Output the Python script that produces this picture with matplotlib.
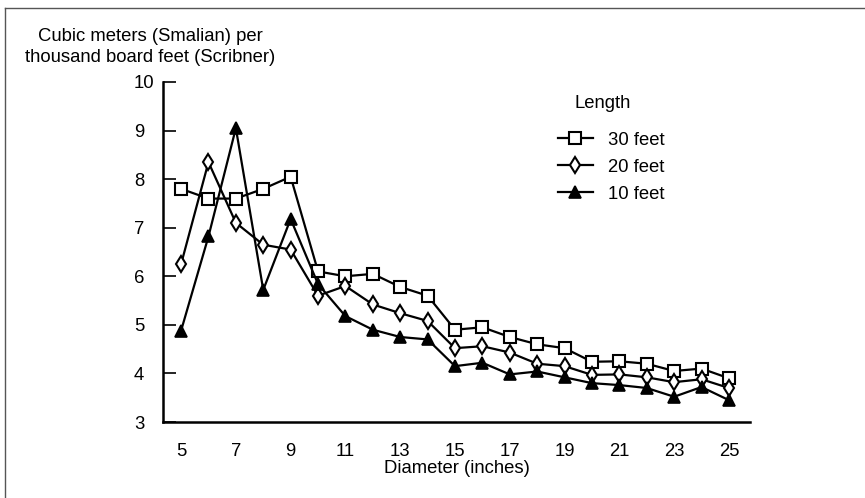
import numpy as np
import matplotlib.pyplot as plt
from matplotlib.lines import Line2D

plt.rcParams['font.family'] = ['Liberation Sans', 'DejaVu Sans']

diameter = list(range(5, 26))
len30 = [7.8, 7.6, 7.6, 7.8, 8.05, 6.1, 6.0, 6.05, 5.78, 5.6, 4.9, 4.95, 4.75,
         4.6, 4.52, 4.24, 4.25, 4.2, 4.05, 4.1, 3.9]
len20 = [6.25, 8.35, 7.1, 6.65, 6.55, 5.6, 5.8, 5.42, 5.24, 5.08, 4.52, 4.56, 4.43,
         4.2, 4.15, 3.97, 3.98, 3.92, 3.82, 3.88, 3.7]
len10 = [4.88, 6.82, 9.05, 5.72, 7.18, 5.84, 5.18, 4.9, 4.75, 4.7, 4.15, 4.22, 3.98,
         4.04, 3.92, 3.8, 3.76, 3.7, 3.52, 3.72, 3.45]
yticks = [3, 4, 5, 6, 7, 8, 9, 10]
xticks = list(range(5, 26, 2))

W, H = 865, 498
fs = 13.3
fig = plt.figure(figsize=(W / 100, H / 100), dpi=100)
ax = fig.add_axes([163 / W, (H - 422) / H, (750 - 163) / W, (422 - 82) / H])

lw = 1.6
ax.plot(diameter, len30, color='black', lw=lw, marker='s', ms=8,
        mfc='white', mec='black', mew=1.5, label='30 feet')
ax.plot(diameter, len20, color='black', lw=lw, marker='d', ms=8.5,
        mfc='white', mec='black', mew=1.5, label='20 feet')
ax.plot(diameter, len10, color='black', lw=lw, marker='^', ms=8,
        mfc='black', mec='black', mew=1.2, label='10 feet')

ax.set_xlim(4.34, 25.77)
ax.set_ylim(3, 10)
ax.set_xticks(xticks)
ax.set_yticks(yticks)
ax.tick_params(axis='x', length=0, labelsize=fs, pad=15)
ax.tick_params(axis='y', direction='in', length=9, width=1.2, labelsize=fs, pad=21)
for lab in ax.get_yticklabels():
    lab.set_horizontalalignment('left')
for s in ['top', 'right']:
    ax.spines[s].set_visible(False)
ax.spines['left'].set_linewidth(1.8)
ax.spines['bottom'].set_linewidth(1.8)
ax.set_xlabel('Diameter (inches)', fontsize=fs, labelpad=0)

fig.text(150 / W, 1 - 47 / H, 'Cubic meters (Smalian) per\nthousand board feet (Scribner)',
         ha='center', va='center', fontsize=fs, linespacing=1.25)

# legend title placed on its own
fig.text(603 / W, 1 - 103 / H, 'Length', ha='center', va='center', fontsize=fs)
leg = ax.legend(loc='upper left', bbox_to_anchor=(541 / W, 1 - 115 / H),
                bbox_transform=fig.transFigure, frameon=False,
                fontsize=fs, handlelength=1.9,
                handletextpad=0.85, labelspacing=0.55)

# partial frame around the figure (left and top only)
fig.add_artist(Line2D([5 / W, 5 / W], [0, 1 - 8 / H], color='#555555', lw=1))
fig.add_artist(Line2D([5 / W, 1], [1 - 8 / H, 1 - 8 / H], color='#555555', lw=1))

fig.savefig('out.png', dpi=100)
